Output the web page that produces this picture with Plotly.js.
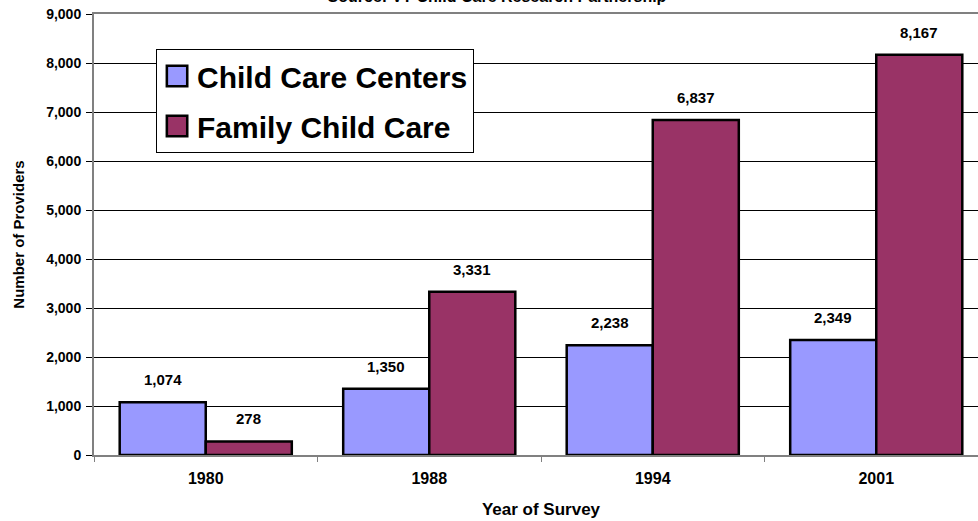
<!DOCTYPE html>
<html>
<head>
<meta charset="utf-8">
<script src="https://cdn.plot.ly/plotly-3.0.1.min.js"></script>
<style>
html, body { margin:0; padding:0; overflow:hidden; background:#fff; width:978px; height:521px; }
#chart { position:absolute; left:0; top:-20px; width:1000px; height:541px; }
</style>
</head>
<body>
<div id="chart"></div>
<script>
const years = ['1980', '1988', '1994', '2001'];
const centers = [1074, 1350, 2238, 2349];
const family = [278, 3331, 6837, 8167];
const seriesNames = ['Child Care Centers', 'Family Child Care'];
const seriesColors = ['#9999FF', '#993366'];
const titleText = 'Source: VT Child Care Research Partnership';
const yTitle = 'Number of Providers';
const xTitle = 'Year of Survey';

const FONT = '"Liberation Sans", Arial, sans-serif';
const series = [centers, family];

const traces = series.map((vals, i) => ({
  type: 'bar',
  name: seriesNames[i],
  x: years,
  y: vals,
  legendgroup: 'g' + i,
  marker: { color: seriesColors[i], line: { color: '#000', width: 2.5 } },
  hoverinfo: 'none'
}));

const annotations = [];
series.forEach((vals, i) => {
  vals.forEach((v, j) => {
    annotations.push({
      x: j, y: v, xref: 'x', yref: 'y',
      text: v.toLocaleString('en-US'),
      showarrow: false, xanchor: 'center', yanchor: 'bottom',
      xshift: i === 0 ? -43 : 43, yshift: 12,
      font: { family: FONT, size: 15, weight: 'bold', color: '#000' }
    });
  });
});

const layout = {
  width: 1000, height: 541,
  margin: { l: 94, r: 12, t: 34, b: 66 },
  paper_bgcolor: '#fff', plot_bgcolor: '#fff',
  barmode: 'group', bargap: 0.23, bargroupgap: 0,
  title: {
    text: titleText, xref: 'container', x: 0.497, xanchor: 'center',
    yref: 'container', y: 1 - 16 / 541, yanchor: 'middle',
    font: { family: FONT, size: 16, weight: 'bold', color: '#000' }
  },
  xaxis: {
    type: 'category', categoryorder: 'array', categoryarray: years,
    range: [-0.5, years.length - 0.5], autorange: false,
    showline: true, linecolor: '#808080', linewidth: 2, mirror: true,
    ticks: 'outside', tickson: 'boundaries', ticklen: 5, tickcolor: '#808080', tickwidth: 1,
    ticklabelstandoff: 8,
    showgrid: false, tickangle: 0,
    tickfont: { family: FONT, size: 16, weight: 'bold', color: '#000' },
    title: { text: xTitle, standoff: 17, font: { family: FONT, size: 17, weight: 'bold', color: '#000' } }
  },
  yaxis: {
    range: [0, 9000], autorange: false, dtick: 1000, tickformat: ',',
    showline: true, linecolor: '#808080', linewidth: 2,
    ticks: 'outside', ticklen: 6, tickcolor: '#000', tickwidth: 1, ticklabelstandoff: 2,
    showgrid: true, gridcolor: '#000', gridwidth: 1, zeroline: false,
    tickfont: { family: FONT, size: 14, weight: 'bold', color: '#000' },
    title: { text: yTitle, standoff: 18, font: { family: FONT, size: 15, weight: 'bold', color: '#000' } }
  },
  legend: {
    x: 0.0694, y: 0.9206, xanchor: 'left', yanchor: 'top',
    bgcolor: '#fff', bordercolor: '#000', borderwidth: 1,
    traceorder: 'grouped', tracegroupgap: 8,
    font: { family: FONT, size: 30, weight: 'bold', color: '#000' }
  },
  annotations: annotations,
  showlegend: true
};

Plotly.newPlot('chart', traces, layout, { staticPlot: true, displayModeBar: false }).then(gd => {
  gd.querySelectorAll('.legendpoints path').forEach(p => {
    const t = p.getAttribute('transform') || '';
    p.setAttribute('transform', t + ' scale(1.7)');
    p.style.strokeWidth = '1.5px';
  });
});
</script>
</body>
</html>
